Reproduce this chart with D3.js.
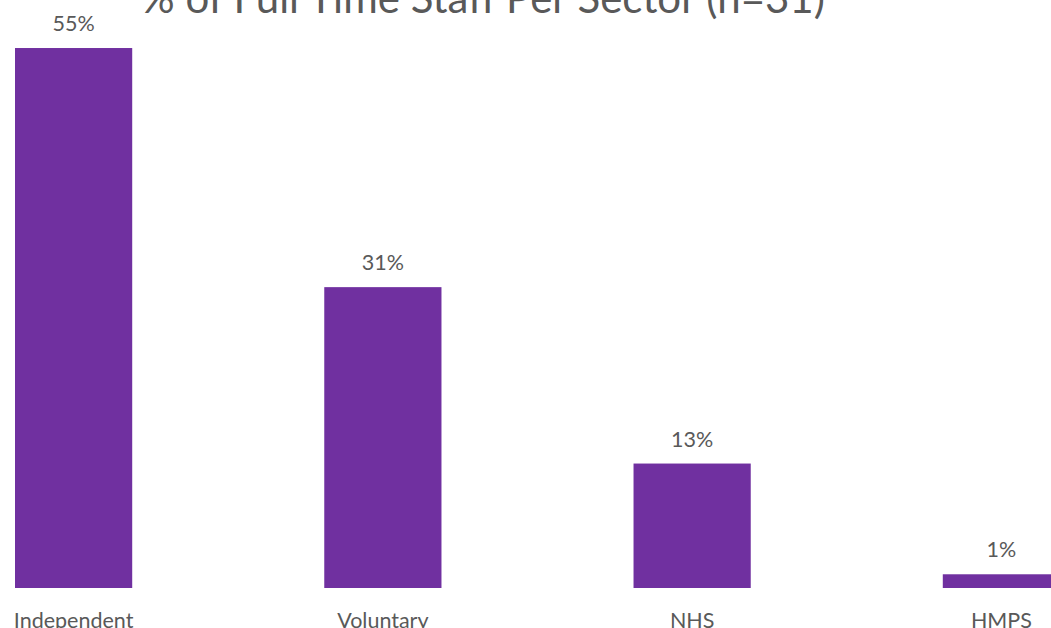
<!DOCTYPE html>
<html>
<head>
<meta charset="utf-8">
<script src="https://cdn.jsdelivr.net/npm/d3@7"></script>
<style>
  html, body { margin: 0; padding: 0; background: #fff; overflow: hidden; }
  svg { display: block; font-family: Lato, "Open Sans", sans-serif; }
  .bar { fill: #7030a0; }
  .value-label, .cat-label { fill: #595959; font-size: 21.5px; }
  .chart-title { fill: #595959; font-size: 42px; }
</style>
</head>
<body>
<svg id="chart" width="1051" height="628"></svg>
<script>
const sectors = ['Independent', 'Voluntary', 'NHS', 'HMPS'];
const shares = [55.1, 30.7, 12.7, 1.4];
const title = '% of Full Time Staff Per Sector (n=31)';

const width = 1051;
const height = 628;
const svg = d3.select('#chart').attr('viewBox', `0 0 ${width} ${height}`);

const rows = sectors.map((sector, i) => ({ sector, share: shares[i] }));

// band scale runs past the right edge, like the original (last bar is cropped)
const x = d3.scaleBand().domain(sectors).range([15, 1060]).paddingInner(0.621).paddingOuter(0);
const y = d3.scaleLinear().domain([0, 60]).range([588, 0]);

svg.append('text')
  .attr('class', 'chart-title')
  .attr('x', 483)
  .attr('y', 13)
  .attr('text-anchor', 'middle')
  .text(title);

svg.append('g')
  .selectAll('rect')
  .data(rows)
  .join('rect')
  .attr('class', 'bar')
  .attr('x', (d) => x(d.sector))
  .attr('y', (d) => y(d.share))
  .attr('width', x.bandwidth())
  .attr('height', (d) => y(0) - y(d.share));

svg.append('g')
  .selectAll('text')
  .data(rows)
  .join('text')
  .attr('class', 'value-label')
  .attr('x', (d) => x(d.sector) + x.bandwidth() / 2)
  .attr('y', (d) => y(d.share) - 17)
  .attr('text-anchor', 'middle')
  .text((d) => `${Math.round(d.share)}%`);

svg.append('g')
  .selectAll('text')
  .data(rows)
  .join('text')
  .attr('class', 'cat-label')
  .attr('x', (d) => x(d.sector) + x.bandwidth() / 2)
  .attr('y', 628)
  .attr('text-anchor', 'middle')
  .text((d) => d.sector);
</script>
</body>
</html>
